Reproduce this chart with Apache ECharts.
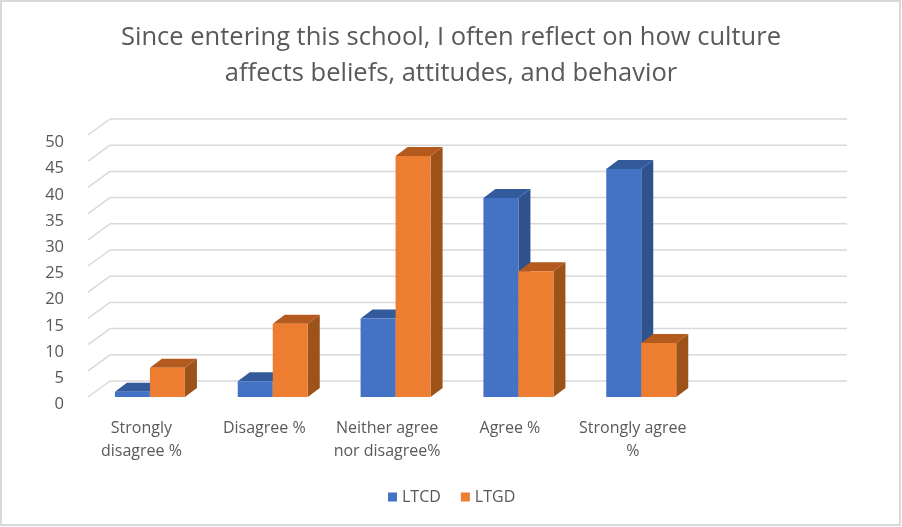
<!DOCTYPE html>
<html><head><meta charset="utf-8">
<script src="https://cdn.jsdelivr.net/npm/echarts@6/dist/echarts.min.js"></script>
<style>html,body{margin:0;padding:0;background:#fff}#c{width:902px;height:527px}</style>
</head><body><div id="c"></div>
<script>
const categories = ['Strongly\ndisagree %','Disagree %','Neither agree\nnor disagree%','Agree %','Strongly agree\n%',''];
const ltcd = [1,3,15,38,43.5,null];
const ltgd = [5.6,14,46,24,10.3,null];
const yTicks = [0,5,10,15,20,25,30,35,40,45,50];
const seriesNames = ['LTCD','LTGD'];
const colors = {LTCD:['#4472C4','#2F528F','#335A9B'], LTGD:['#ED7D31','#9C5219','#B45A1E']};
const font = '"Open Sans","Noto Sans",sans-serif';
const wallDx = 22, wallDy = -16, barDx = 12, barDy = -9, barW = 35;

function wallItem(params, api){
  const v = api.value(0);
  const cs = params.coordSys;
  const y = api.coord([0, v])[1];
  const x0 = cs.x, x1 = cs.x + cs.width;
  const style = {stroke:'#D9D9D9', lineWidth:1.5, fill:'none'};
  return {type:'group', children:[
    {type:'line', shape:{x1:x0,y1:y,x2:x0+wallDx,y2:y+wallDy}, style},
    {type:'line', shape:{x1:x0+wallDx,y1:y+wallDy,x2:x1+wallDx,y2:y+wallDy}, style}
  ]};
}
function barRender(name, side){
  const c = colors[name];
  return function(params, api){
    const v = api.value(1);
    if (v == null || isNaN(v)) return;
    const top = api.coord([api.value(0), v]);
    const base = api.coord([api.value(0), 0]);
    const xl = side < 0 ? top[0]-barW+0.5 : top[0]+0.5;
    const xr = xl + barW;
    const yt = top[1], yb = base[1];
    return {type:'group', children:[
      {type:'polygon', shape:{points:[[xr,yt],[xr+barDx,yt+barDy],[xr+barDx,yb+barDy],[xr,yb]]}, style:{fill:c[1]}},
      {type:'polygon', shape:{points:[[xl,yt],[xl+barDx,yt+barDy],[xr+barDx,yt+barDy],[xr,yt]]}, style:{fill:c[2]}},
      {type:'rect', shape:{x:xl,y:yt,width:barW,height:yb-yt}, style:{fill:c[0]}}
    ]};
  };
}
const chart = echarts.init(document.getElementById('c'), null, {renderer:'canvas'});
chart.setOption({
  animation:false,
  backgroundColor:'#fff',
  color:[colors.LTCD[0], colors.LTGD[0]],
  title:{text:'Since entering this school, I often reflect on how culture\naffects beliefs, attitudes, and behavior',
    left:446, top:15, textAlign:'center',
    textStyle:{fontFamily:font,fontSize:25.5,fontWeight:'normal',color:'#595959',lineHeight:36}},
  legend:{data:seriesNames, bottom:17, left:383, itemWidth:9, itemHeight:9, itemGap:20, icon:'rect',
    textStyle:{fontFamily:font,fontSize:16,color:'#595959'}},
  grid:{left:88, right:77, top:135, bottom:130},
  xAxis:{type:'category', data:categories, axisLine:{show:false}, axisTick:{show:false}, splitLine:{show:false},
    axisLabel:{interval:0, fontFamily:font, fontSize:16, color:'#595959', lineHeight:23, margin:20, padding:[0,16,0,0]}},
  yAxis:{type:'value', min:0, max:50, interval:5, axisLine:{show:false}, axisTick:{show:false}, splitLine:{show:false},
    axisLabel:{fontFamily:font, fontSize:16.5, color:'#595959', margin:24, verticalAlign:'top', lineHeight:15}},
  graphic:[{type:'rect', silent:true, shape:{x:1,y:1,width:899,height:524}, style:{fill:'none',stroke:'#D9D9D9',lineWidth:2}, z:100}],
  series:[
    {type:'custom', name:'wall', renderItem:wallItem, data:yTicks.map(v=>[v]), encode:{y:0}, silent:true, z:1},
    {type:'custom', name:'LTCD', renderItem:barRender('LTCD',-1), data:ltcd.map((v,i)=>[i,v]), encode:{x:0,y:1}, z:2, itemStyle:{color:colors.LTCD[0]}},
    {type:'custom', name:'LTGD', renderItem:barRender('LTGD',1), data:ltgd.map((v,i)=>[i,v]), encode:{x:0,y:1}, z:3, itemStyle:{color:colors.LTGD[0]}}
  ]
});
</script></body></html>
